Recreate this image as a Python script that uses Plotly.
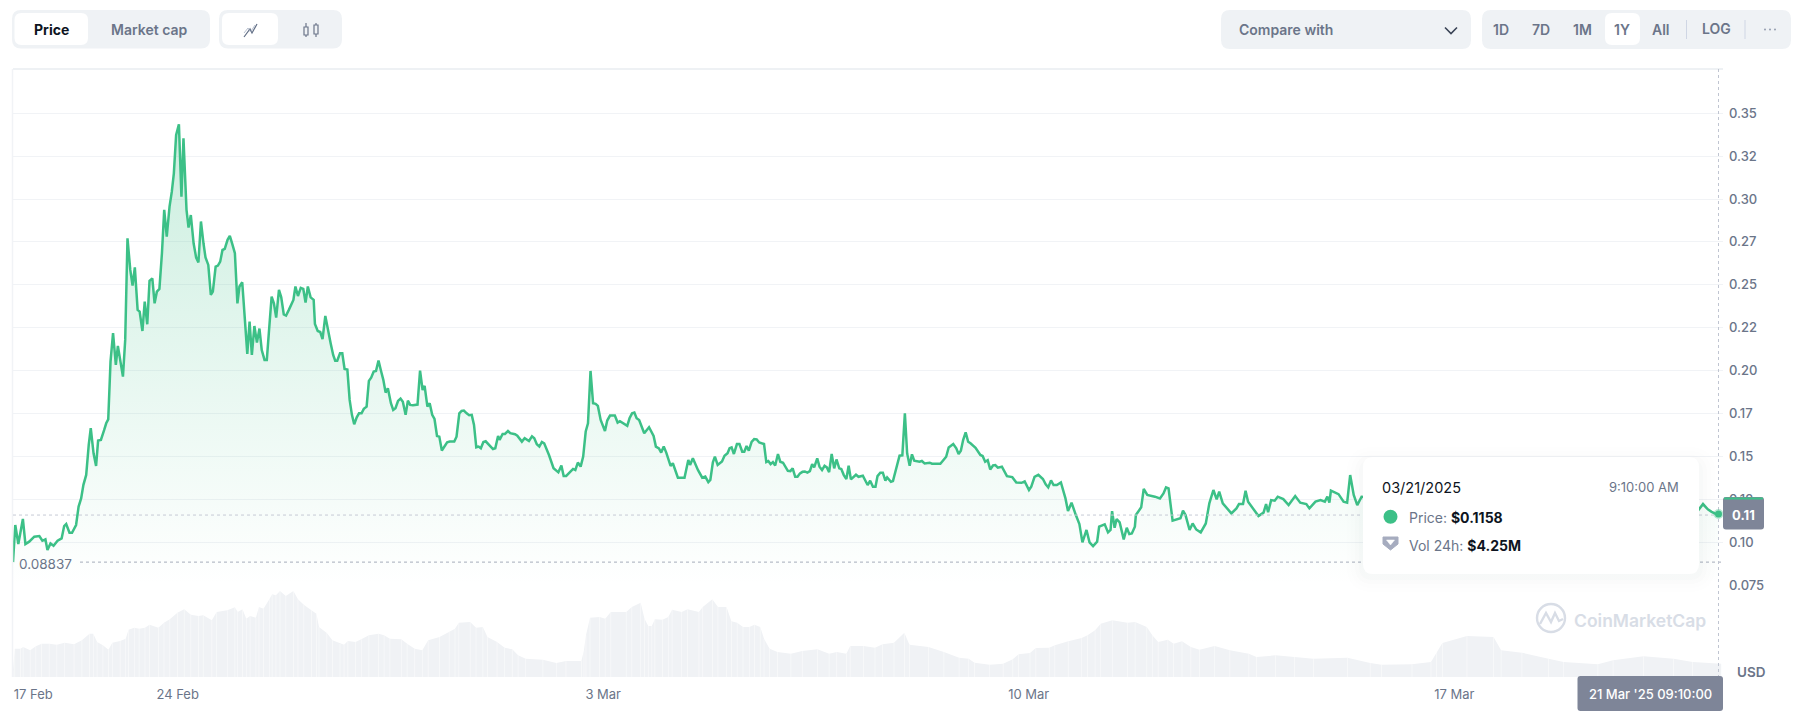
import pandas as pd
import plotly.graph_objects as go

# hours since the first sample of the window
start_time = pd.Timestamp("2025-02-21 07:00")

price_hours = [
    0, 0.9, 2.1, 3.9, 4.9, 6.4, 8.4, 10.4, 11.6, 12.8, 13.6, 14.8, 16.0, 17.6, 19.2, 20.2, 21.0, 22.3, 23.3, 24.9,
    25.9, 26.9, 27.8, 28.9, 29.9, 30.7, 31.8, 32.8, 33.6, 34.7, 36.0, 36.8, 37.6, 38.5, 39.5, 40.6, 41.4, 42.3, 43.4, 44.3,
    45.2, 46.3, 47.2, 48.1, 49.2, 50.0, 51.1, 52.0, 53.0, 53.9, 55.0, 55.9, 56.8, 57.8, 58.8, 59.7, 60.7, 61.8, 62.7, 63.5,
    64.4, 65.5, 66.5, 67.3, 68.0, 68.5, 69.3, 70.2, 71.3, 72.3, 73.2, 74.2, 75.2, 76.0, 77.1, 78.1, 78.9, 80.0, 80.9, 81.8,
    82.7, 83.6, 84.7, 85.6, 86.5, 87.6, 88.6, 89.4, 90.5, 91.4, 92.5, 93.4, 94.3, 95.3, 96.3, 97.3, 98.2, 99.3, 100.2, 101.0,
    102.1, 103.0, 103.9, 105.0, 105.9, 106.9, 107.8, 108.9, 110.7, 111.5, 112.5, 113.6, 114.6, 115.5, 116.4, 117.5, 118.7, 119.2, 120.3, 121.3,
    122.2, 123.3, 124.3, 125.4, 126.4, 127.2, 128.0, 129.1, 130.0, 130.9, 132.0, 132.9, 133.8, 134.7, 135.7, 136.6, 137.6, 138.5, 139.6, 140.5,
    141.4, 142.4, 143.3, 144.3, 145.3, 146.2, 147.1, 148.0, 149.2, 150.1, 151.0, 152.0, 153.0, 153.9, 155.0, 155.9, 156.8, 157.9, 159.7, 160.7,
    161.7, 162.5, 163.6, 164.5, 165.5, 166.4, 167.4, 168.3, 169.3, 170.4, 171.4, 172.4, 174.2, 175.1, 176.2, 177.1, 178.0, 179.1, 180.1, 181.1,
    182.0, 182.9, 183.8, 184.7, 185.7, 186.6, 187.6, 188.6, 189.5, 190.4, 191.5, 192.1, 193.3, 194.2, 195.4, 196.3, 198.2, 199.1, 200.9, 202.0,
    203.7, 204.9, 205.8, 206.8, 207.8, 208.8, 209.7, 211.6, 213.4, 215.3, 216.5, 217.4, 218.4, 221.1, 222.0, 223.0, 224.1, 225.1, 226.1, 227.0,
    228.0, 229.0, 230.0, 230.9, 232.0, 233.7, 234.6, 235.7, 237.6, 238.7, 239.6, 242.5, 243.4, 244.4, 245.3, 246.2, 247.2, 249.2, 251.1, 252.9,
    253.8, 255.0, 255.9, 256.9, 257.9, 259.6, 260.5, 262.5, 265.1, 266.6, 267.3, 268.4, 269.4, 270.4, 272.1, 273.3, 274.5, 275.3, 276.3, 277.1,
    278.2, 279.9, 280.9, 282.1, 282.9, 283.7, 284.6, 285.8, 286.8, 287.9, 288.7, 289.6, 290.5, 291.6, 292.6, 293.6, 294.6, 296.5, 297.4, 298.2,
    299.1, 300.0, 300.9, 302.0, 302.9, 304.0, 305.9, 306.9, 307.8, 308.8, 309.7, 310.7, 311.7, 312.6, 313.6, 314.6, 315.5, 316.3, 317.5, 318.4,
    319.4, 320.4, 321.3, 322.2, 323.2, 324.2, 325.1, 326.2, 327.0, 328.0, 329.0, 329.9, 330.8, 332.8, 333.8, 335.5, 337.4, 338.4, 339.5, 340.5,
    341.3, 342.4, 343.4, 344.4, 345.1, 346.6, 347.4, 348.4, 350.0, 351.1, 352.1, 353.0, 354.0, 354.9, 355.8, 357.9, 358.8, 359.9, 361.9, 362.8,
    366.1, 367.1, 368.4, 369.4, 371.2, 372.4, 373.3, 374.2, 375.1, 376.1, 377.1, 378.0, 380.0, 381.9, 382.8, 383.8, 384.8, 385.8, 386.9, 387.8,
    388.8, 390.4, 392.4, 394.5, 396.1, 398.2, 399.4, 401.1, 402.0, 403.3, 404.8, 406.6, 407.7, 408.7, 409.8, 410.8, 412.1, 413.7, 415.5, 416.5,
    417.9, 419.6, 421.0, 422.2, 423.8, 425.0, 426.4, 428.0, 428.8, 431.0, 432.3, 433.3, 433.9, 434.9, 435.7, 436.9, 438.5, 439.7, 440.7, 441.7,
    442.9, 443.3, 445.4, 446.4, 447.8, 450.8, 452.8, 454.2, 455.2, 456.2, 457.8, 460.9, 461.9, 462.9, 464.5, 465.7, 467.1, 468.9, 470.9, 472.3,
    473.9, 475.2, 476.2, 477.6, 479.0, 481.0, 483.0, 484.0, 485.6, 486.6, 487.6, 490.1, 491.7, 493.7, 494.7, 495.5, 496.7, 498.1, 499.3, 501.5,
    503.6, 506.2, 508.2, 510.6, 511.8, 514.2, 516.2, 517.9, 518.9, 519.7, 520.3, 523.3, 525.3, 526.7, 527.9, 529.3, 530.7, 532.4, 545, 560,
    575, 590, 605, 620, 640, 655, 665.4, 667.2, 669.1, 670.6, 673.2,
]
price_values = [
    0.0884, 0.1100, 0.0989, 0.1135, 0.0989, 0.1003, 0.1032, 0.1036, 0.1008, 0.1016, 0.0954, 0.0993, 0.0979, 0.1008, 0.1022, 0.1094, 0.1106, 0.1055, 0.1055, 0.1100,
    0.1207, 0.1255, 0.1334, 0.1392, 0.1567, 0.1664, 0.1518, 0.1444, 0.1592, 0.1596, 0.1654, 0.1693, 0.1716, 0.2052, 0.2218, 0.2033, 0.2144, 0.2072, 0.1965, 0.2179,
    0.2771, 0.2587, 0.2495, 0.2602, 0.2354, 0.2344, 0.2231, 0.2402, 0.2270, 0.2523, 0.2538, 0.2392, 0.2460, 0.2476, 0.2684, 0.2937, 0.2781, 0.2956, 0.3043, 0.3150,
    0.3374, 0.3436, 0.3014, 0.3354, 0.3131, 0.2937, 0.2834, 0.2907, 0.2742, 0.2659, 0.2631, 0.2869, 0.2742, 0.2659, 0.2616, 0.2441, 0.2460, 0.2606, 0.2612, 0.2635,
    0.2703, 0.2709, 0.2762, 0.2785, 0.2742, 0.2684, 0.2392, 0.2490, 0.2515, 0.2315, 0.2097, 0.2286, 0.2091, 0.2260, 0.2163, 0.2245, 0.2120, 0.2062, 0.2062, 0.2218,
    0.2431, 0.2392, 0.2309, 0.2470, 0.2427, 0.2328, 0.2321, 0.2354, 0.2412, 0.2490, 0.2435, 0.2482, 0.2476, 0.2396, 0.2490, 0.2427, 0.2412, 0.2272, 0.2231, 0.2225,
    0.2183, 0.2319, 0.2237, 0.2159, 0.2091, 0.2058, 0.2058, 0.2101, 0.2101, 0.2010, 0.2006, 0.1829, 0.1742, 0.1687, 0.1728, 0.1751, 0.1751, 0.1777, 0.1790, 0.1940,
    0.1959, 0.1994, 0.1998, 0.2058, 0.1998, 0.1946, 0.1872, 0.1897, 0.1810, 0.1771, 0.1781, 0.1823, 0.1837, 0.1819, 0.1742, 0.1825, 0.1800, 0.1798, 0.1802, 0.2000,
    0.1887, 0.1911, 0.1790, 0.1810, 0.1742, 0.1718, 0.1619, 0.1615, 0.1534, 0.1561, 0.1582, 0.1586, 0.1586, 0.1615, 0.1751, 0.1765, 0.1767, 0.1751, 0.1740, 0.1742,
    0.1683, 0.1553, 0.1557, 0.1547, 0.1584, 0.1588, 0.1573, 0.1557, 0.1543, 0.1547, 0.1619, 0.1596, 0.1631, 0.1631, 0.1648, 0.1635, 0.1629, 0.1621, 0.1586, 0.1606,
    0.1590, 0.1617, 0.1606, 0.1571, 0.1557, 0.1584, 0.1576, 0.1508, 0.1431, 0.1407, 0.1446, 0.1386, 0.1386, 0.1427, 0.1421, 0.1464, 0.1440, 0.1499, 0.1645, 0.1693,
    0.1998, 0.1810, 0.1806, 0.1794, 0.1712, 0.1648, 0.1709, 0.1738, 0.1738, 0.1697, 0.1705, 0.1678, 0.1722, 0.1751, 0.1755, 0.1722, 0.1712, 0.1635, 0.1670, 0.1619,
    0.1557, 0.1547, 0.1522, 0.1557, 0.1522, 0.1444, 0.1460, 0.1376, 0.1376, 0.1479, 0.1450, 0.1489, 0.1450, 0.1421, 0.1376, 0.1382, 0.1350, 0.1363, 0.1466, 0.1499,
    0.1450, 0.1470, 0.1503, 0.1518, 0.1547, 0.1552, 0.1514, 0.1572, 0.1572, 0.1527, 0.1527, 0.1560, 0.1533, 0.1585, 0.1601, 0.1599, 0.1581, 0.1572, 0.1467, 0.1473,
    0.1455, 0.1467, 0.1447, 0.1514, 0.1469, 0.1463, 0.1416, 0.1414, 0.1430, 0.1381, 0.1381, 0.1401, 0.1410, 0.1412, 0.1405, 0.1414, 0.1455, 0.1436, 0.1488, 0.1440,
    0.1420, 0.1445, 0.1436, 0.1408, 0.1514, 0.1430, 0.1482, 0.1430, 0.1426, 0.1391, 0.1368, 0.1445, 0.1366, 0.1393, 0.1381, 0.1387, 0.1333, 0.1358, 0.1323, 0.1323,
    0.1385, 0.1405, 0.1405, 0.1358, 0.1377, 0.1352, 0.1356, 0.1420, 0.1504, 0.1506, 0.1751, 0.1517, 0.1445, 0.1512, 0.1475, 0.1469, 0.1473, 0.1459, 0.1463, 0.1457,
    0.1457, 0.1475, 0.1498, 0.1552, 0.1572, 0.1547, 0.1514, 0.1533, 0.1595, 0.1640, 0.1585, 0.1576, 0.1550, 0.1508, 0.1502, 0.1469, 0.1478, 0.1424, 0.1447, 0.1449,
    0.1434, 0.1440, 0.1385, 0.1379, 0.1348, 0.1346, 0.1354, 0.1304, 0.1323, 0.1381, 0.1393, 0.1368, 0.1337, 0.1319, 0.1360, 0.1333, 0.1333, 0.1348, 0.1255, 0.1181,
    0.1230, 0.1158, 0.1106, 0.0999, 0.1071, 0.0999, 0.0977, 0.1003, 0.1090, 0.1104, 0.1057, 0.1071, 0.1181, 0.1084, 0.1135, 0.1115, 0.1016, 0.1084, 0.1047, 0.1051,
    0.1090, 0.1158, 0.1203, 0.1310, 0.1275, 0.1265, 0.1255, 0.1284, 0.1319, 0.1313, 0.1125, 0.1139, 0.1183, 0.1158, 0.1071, 0.1109, 0.1074, 0.1057, 0.1109, 0.1226,
    0.1304, 0.1249, 0.1294, 0.1226, 0.1203, 0.1168, 0.1197, 0.1222, 0.1222, 0.1300, 0.1236, 0.1183, 0.1152, 0.1172, 0.1222, 0.1174, 0.1245, 0.1242, 0.1265, 0.1251,
    0.1216, 0.1269, 0.1230, 0.1222, 0.1197, 0.1236, 0.1245, 0.1236, 0.1265, 0.1230, 0.1300, 0.1280, 0.1236, 0.1230, 0.1391, 0.1275, 0.1216, 0.1265, 0.1250, 0.1270,
    0.1300, 0.1280, 0.1250, 0.1240, 0.1220, 0.1200, 0.1187, 0.1222, 0.1191, 0.1177, 0.1158,
]

# 24h volume in $M
volume_hours = [
    0, 0.7, 3, 4, 6.8, 9, 11.3, 14.3, 17.3, 20.4, 24.1, 27.2, 30.2, 31.7, 33.2, 35.5, 37.7, 39.2, 42.3, 44.5,
    45.6, 47.9, 49.8, 52.1, 53.9, 57.4, 59.6, 61.9, 64.9, 67.6, 70.2, 73.2, 75.1, 78.5, 80.4, 84.6, 87.6, 88.7, 90.6, 92.1,
    93.6, 95.9, 97.1, 98.9, 101.2, 102.3, 103.8, 105.4, 107.7, 110.7, 112.5, 114.8, 117.8, 119.8, 120.8, 123.9, 126.1, 129.1, 130.7, 132.2,
    135.2, 137.5, 140.5, 144.3, 146.5, 148.8, 153.3, 155.6, 158.6, 161.6, 163.9, 168.4, 172.2, 174.5, 176, 180.5, 182.8, 185.5, 187.3, 191.1,
    194.1, 197.1, 199.4, 202.4, 209.2, 214.5, 218.3, 224.4, 225.4, 226.2, 227.8, 231.6, 233.8, 236, 242.1, 244.3, 247.8, 249.3, 250.8, 252.2,
    253.4, 256.4, 258.7, 260.2, 264, 266.3, 270.8, 272.3, 276.1, 278.3, 281.7, 283.6, 285.9, 288.2, 290.7, 292.7, 295, 296.5, 298.7, 301.8,
    307.1, 311.6, 317.6, 322.2, 325.2, 329, 330.5, 335.8, 340.3, 343.3, 347.8, 351.9, 353.9, 361.4, 367.5, 373.5, 377.3, 379.6, 385.6, 390.9,
    394.7, 397, 401.5, 403.8, 409.1, 411.3, 416.6, 421.9, 424.2, 427.2, 429.4, 434, 440, 443, 447.6, 449.8, 452.1, 455.9, 458.2, 461.5,
    465, 468.4, 474.4, 480.4, 487.9, 490.9, 498.4, 505.9, 513.4, 526.8, 535.8, 540.3, 552.3, 559.8, 562, 564.3, 574, 584.5, 587.5, 595.7,
    606.2, 612.2, 625.7, 631.7, 643.7, 655.6, 663.1, 674.4,
]
volume_values = [
    2.0, 8.5, 8.5, 9.0, 8.0, 9.2, 10, 10, 9.7, 10.3, 9.8, 11, 13, 13, 10.5, 9.5, 8.2, 10.3, 10.8, 11.5,
    14.2, 14.8, 14.5, 14.8, 15.7, 14.8, 16.3, 17.3, 19.3, 20.3, 18.7, 18.3, 18.5, 17, 19.5, 20, 20.9, 19.5, 20.3, 17.5,
    18.3, 17.8, 21, 20.5, 23.3, 24.8, 24.5, 25.8, 24.3, 25.8, 23.3, 21.7, 20, 19, 15, 13.2, 11, 10, 9.7, 10.8,
    10.5, 11.3, 12.5, 13, 12.5, 11.5, 11.3, 10, 8.5, 8, 11, 12, 13.5, 14.5, 16.3, 16.5, 14.8, 15, 12, 10.5,
    8.8, 8.3, 6.5, 5.5, 5.2, 4.2, 4.8, 4.8, 8, 12.5, 17.8, 18, 17.5, 19.5, 19.5, 21, 22.3, 17.5, 15.3, 15.3,
    17.3, 17.2, 18, 20.2, 19.5, 20.3, 19.5, 21, 23.3, 21, 21, 16.7, 16.3, 15, 15, 15.7, 15, 11.5, 8.5, 7.5,
    7, 7.8, 8.3, 7, 7.5, 7, 9.3, 9.3, 8.8, 9.8, 10.3, 13.3, 9.7, 9, 7.5, 5.8, 5.5, 4.3, 3.7, 4,
    5.3, 6.8, 7.2, 8.7, 8.8, 9.5, 10.7, 11.7, 12.5, 14, 16, 17, 16.3, 16.5, 15, 12.5, 10.5, 11.2, 10, 10.7,
    9, 8.2, 9.3, 8, 7, 6, 6.5, 6, 5.5, 5.8, 4.2, 3.7, 3.8, 4.5, 7.5, 10.2, 12.3, 12, 8, 7.3,
    5.5, 4.5, 3.8, 5, 6.2, 5.5, 4.5, 4,
]

y_ticks = [0.075, 0.10, 0.125, 0.15, 0.175, 0.20, 0.225, 0.25, 0.275, 0.30, 0.325, 0.35]
y_labels = ["0.075", "0.10", "0.12", "0.15", "0.17", "0.20", "0.22", "0.25", "0.27", "0.30", "0.32", "0.35"]
x_ticks = ["2025-02-21 15:00", "2025-02-24", "2025-03-03", "2025-03-10", "2025-03-17"]
x_labels = ["17 Feb", "24 Feb", "3 Mar", "10 Mar", "17 Mar"]

current_price = 0.1158
low_price = 0.08837

W, H = 1795, 718
L, R, T, B = 13, 72, 69, 41
GREEN = "#3cc087"
GREY = "#6b7589"
DARK = "#0d1421"
PANEL = "#eff2f5"
BOX = "#7e8598"
FONT = "Inter"


def px_x(x):
    return (x - L) / (W - L - R)


def px_y(y):
    return 1 - (y - T) / (H - T - B)


def round_rect(x0, y0, x1, y1, r, fill):
    a0, a1 = px_x(x0), px_x(x1)
    b0, b1 = px_y(y0), px_y(y1)
    rx, ry = r / (W - L - R), r / (H - T - B)
    path = (
        f"M{a0 + rx},{b0} L{a1 - rx},{b0} Q{a1},{b0} {a1},{b0 - ry} L{a1},{b1 + ry} Q{a1},{b1} {a1 - rx},{b1} "
        f"L{a0 + rx},{b1} Q{a0},{b1} {a0},{b1 + ry} L{a0},{b0 - ry} Q{a0},{b0} {a0 + rx},{b0} Z"
    )
    return dict(type="path", xref="paper", yref="paper", path=path, fillcolor=fill, line=dict(width=0), layer="above")


def stroke(points, color, width=1.5, fill=None):
    path = "M" + " L".join(f"{px_x(x)},{px_y(y)}" for x, y in points)
    if fill:
        path += " Z"
    return dict(type="path", xref="paper", yref="paper", path=path, line=dict(color=color, width=width),
                fillcolor=fill or "rgba(0,0,0,0)", layer="above")


def hline(x0, x1, y, color, width=1, dash="solid"):
    return dict(type="line", xref="paper", yref="paper", x0=px_x(x0), x1=px_x(x1), y0=px_y(y), y1=px_y(y),
                line=dict(color=color, width=width, dash=dash), layer="above")


def vline(x, y0, y1, color, width=1, dash="solid"):
    return dict(type="line", xref="paper", yref="paper", x0=px_x(x), x1=px_x(x), y0=px_y(y0), y1=px_y(y1),
                line=dict(color=color, width=width, dash=dash), layer="above")


def dot(cx, cy, r, fill):
    return dict(type="circle", xref="paper", yref="paper", x0=px_x(cx - r), x1=px_x(cx + r), y0=px_y(cy + r),
                y1=px_y(cy - r), fillcolor=fill, line=dict(width=0), layer="above")


def label(x, y, text, size=14, color=GREY, weight=400, anchor="center"):
    return dict(xref="paper", yref="paper", x=px_x(x), y=px_y(y), text=text, showarrow=False, xanchor=anchor,
                yanchor="middle", font=dict(family=FONT, size=size, color=color, weight=weight), borderpad=0, borderwidth=0)


price_x = start_time + pd.to_timedelta(price_hours, unit="h")
volume_x = start_time + pd.to_timedelta(volume_hours, unit="h")
x_end = start_time + pd.Timedelta(hours=(W - R - L) / 2.533)

fig = go.Figure()

fig.add_trace(go.Scatter(
    x=price_x, y=price_values, mode="lines", line=dict(color=GREEN, width=2.5), fill="tozeroy",
    fillgradient=dict(type="vertical", start=0.075, stop=0.345,
                      colorscale=[[0, "rgba(60,192,135,0)"], [1, "rgba(60,192,135,0.27)"]]),
    hoverinfo="skip", showlegend=False,
))
fig.add_trace(go.Scatter(
    x=volume_x, y=volume_values, mode="lines", yaxis="y2", line=dict(width=0), fill="tozeroy",
    fillcolor="#f0f2f5", hoverinfo="skip", showlegend=False,
))
# pale stripes through the volume area, on their own axis so they sit on top of it
fig.add_trace(go.Bar(
    x=volume_x, y=volume_values, yaxis="y3", width=0.3 * 3600000, marker=dict(color="rgba(255,255,255,0.6)", line=dict(width=0)),
    hoverinfo="skip", showlegend=False,
))

shapes = [
    hline(L, W - R, T, "#e9ecf1", 1.5),
    vline(12.5, T, H - B, "#f1f3f6", 1.5),
    # crosshair and low marker
    dict(type="line", xref="paper", yref="y", x0=0, x1=1, y0=current_price, y1=current_price,
         line=dict(color="#c6cbd6", width=1, dash="dot"), layer="above"),
    dict(type="line", xref="paper", yref="y", x0=px_x(80), x1=1, y0=low_price, y1=low_price,
         line=dict(color="#a6acba", width=1, dash="dot"), layer="above"),
    vline(1718.5, T, H - B, "#c0c5d1", 1, "dot"),
    # last point
    dot(1718.5, 514, 5, "rgba(60,192,135,0.35)"),
    dot(1718.5, 514, 3.5, GREEN),
    # price box and date box
    round_rect(1723, 497, 1764, 529.5, 3, BOX),
    hline(1724, 1763, 498.5, GREEN, 2),
    round_rect(1577.5, 676, 1723, 711, 3, BOX),
    # toolbar left
    round_rect(12, 10, 210, 48.5, 9, PANEL),
    round_rect(14.5, 13, 88, 45, 7, "#ffffff"),
    round_rect(219, 10, 342, 48.5, 9, PANEL),
    round_rect(222, 13, 278, 45, 7, "#ffffff"),
    stroke([(244, 37), (250, 29), (252, 33), (257, 24)], "#616e85", 1.2),
    stroke([(244, 33), (248, 28), (250.5, 32), (255, 25)], "#a6b0c3", 0.8),
    # candle icon
    vline(306, 23, 37, GREY, 1.2),
    vline(316, 23, 37, GREY, 1.2),
    stroke([(304, 27), (308, 27), (308, 35), (304, 35)], GREY, 1.2, PANEL),
    stroke([(314, 25), (318, 25), (318, 34), (314, 34)], GREY, 1.2, PANEL),
    # toolbar right
    round_rect(1221, 10, 1471, 49, 9, PANEL),
    stroke([(1445, 27.5), (1451, 33.5), (1457, 27.5)], "#3a4456", 1.6),
    round_rect(1482, 10, 1791, 49, 9, PANEL),
    round_rect(1605, 13, 1640, 45, 7, "#ffffff"),
    vline(1686.5, 20, 39, "#cfd6e4", 1),
    vline(1745, 20, 39, "#cfd6e4", 1),
    dot(1765, 29.5, 0.9, "#8a94a8"),
    dot(1770, 29.5, 0.9, "#8a94a8"),
    dot(1775, 29.5, 0.9, "#8a94a8"),
    # watermark
    dict(type="circle", xref="paper", yref="paper", x0=px_x(1537), x1=px_x(1565), y0=px_y(632), y1=px_y(604),
         line=dict(color="#d8dde6", width=2.4), fillcolor="rgba(0,0,0,0)", layer="above"),
    stroke([(1540, 624), (1546, 613), (1551, 622), (1555, 613), (1559, 621), (1563, 619)], "#d8dde6", 2.4),
]

# tooltip with soft shadow
for grow, alpha in [(16, 0.006), (12, 0.008), (8, 0.012), (4, 0.016)]:
    shapes.append(round_rect(1363 - grow, 457 - grow + 6, 1699 + grow, 574 + grow + 2, 10 + grow, f"rgba(88,102,126,{alpha})"))
shapes += [
    round_rect(1363, 457, 1699, 574, 10, "#ffffff"),
    dot(1390.5, 516.7, 7, GREEN),
    stroke([(1383, 537), (1398, 537), (1398, 544), (1390.5, 550), (1383, 544)], "#a6acbf", 1, "#a6acbf"),
    stroke([(1386.5, 540), (1394.5, 540), (1390.5, 545)], "#ffffff", 0.5, "#ffffff"),
]

annotations = [
    label(51.5, 30, "Price", 14, DARK, 700),
    label(149, 30, "Market cap", 14, GREY, 600),
    label(1239, 30, "Compare with", 14, GREY, 600, "left"),
    label(1501, 30, "1D", 14, GREY, 600),
    label(1541, 30, "7D", 14, GREY, 600),
    label(1582, 30, "1M", 14, GREY, 600),
    label(1622, 30, "1Y", 14, GREY, 600),
    label(1661, 30, "All", 14, GREY, 600),
    label(1716, 29, "LOG", 14, GREY, 600),
    label(19, 564, "0.08837", 13.5, GREY, 400, "left"),
    label(1743, 515, "0.11", 13, "#ffffff", 700),
    label(1752, 672, "USD", 13.5, GREY, 600),
    label(1650, 694, "21 Mar '25 09:10:00", 13, "#ffffff", 500),
    label(1574, 620, "CoinMarketCap", 17.5, "#d8dde6", 600, "left"),
    label(1382, 487, "03/21/2025", 14.5, DARK, 400, "left"),
    label(1679, 487, "9:10:00 AM", 13, GREY, 400, "right"),
    label(1408.5, 517, f"Price: <b style='color:{DARK}'>$0.1158</b>", 14, GREY, 400, "left"),
    label(1408.5, 545, f"Vol 24h: <b style='color:{DARK}'>$4.25M</b>", 14, GREY, 400, "left"),
]

fig.update_layout(
    width=W, height=H, margin=dict(l=L, r=R, t=T, b=B, pad=0), autosize=False,
    paper_bgcolor="#ffffff", plot_bgcolor="#ffffff", showlegend=False,
    font=dict(family=FONT, size=13, color=GREY),
    xaxis=dict(type="date", range=[start_time, x_end], tickmode="array", tickvals=x_ticks, ticktext=x_labels,
               showgrid=False, zeroline=False, showline=False, ticks="", ticklabelstandoff=8,
               tickfont=dict(family=FONT, size=13, color=GREY)),
    yaxis=dict(side="right", range=[0.0214, 0.3758], tickmode="array", tickvals=y_ticks, ticktext=y_labels,
               showgrid=True, gridcolor="#f1f3f6", gridwidth=1, zeroline=False, showline=False, ticks="",
               ticklabelstandoff=5, tickfont=dict(family=FONT, size=13, color=GREY, weight=500)),
    yaxis2=dict(domain=[0, 0.1513], range=[0, 27.6], anchor="x", visible=False),
    yaxis3=dict(overlaying="y2", range=[0, 27.6], anchor="x", visible=False),
    shapes=shapes, annotations=annotations,
)

# browser default body margin would push the figure 8px off
fig.write_html("out.html", post_script="document.body.style.margin='0';", config={"displayModeBar": False})
